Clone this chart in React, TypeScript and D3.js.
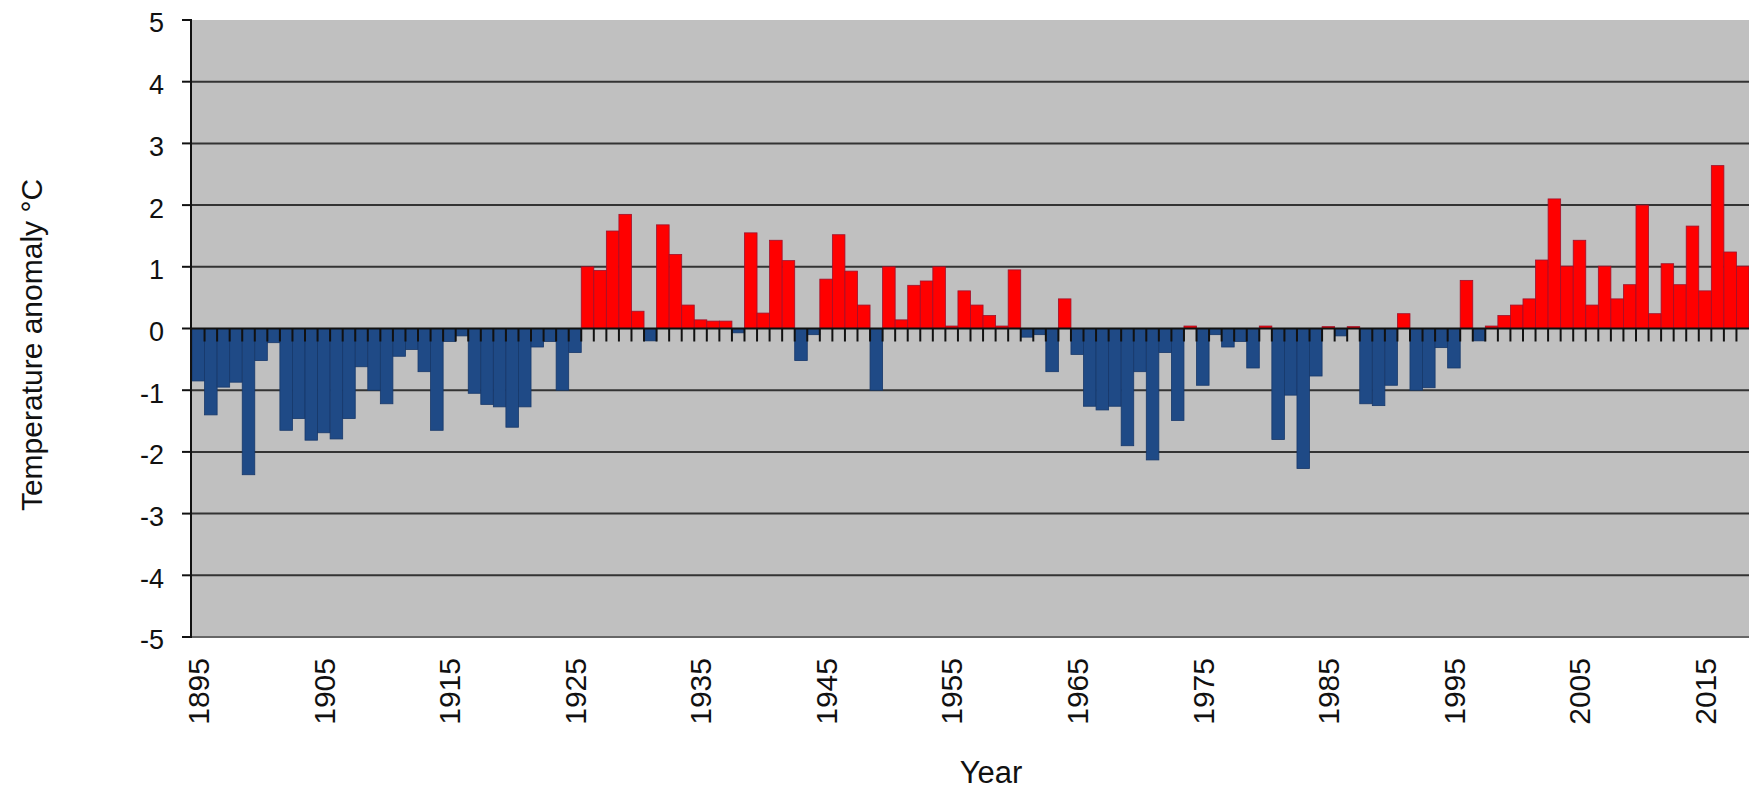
import React, { useEffect, useRef } from "react";
import * as d3 from "d3";

// yearly temperature anomaly (°C), 1895 - 2018
const firstYear = 1895;
const anomalies = [
  -0.85, -1.4, -0.95, -0.87, -2.37, -0.52, -0.23, -1.65, -1.46, -1.81,
  -1.69, -1.79, -1.46, -0.62, -1.0, -1.22, -0.45, -0.34, -0.7, -1.65,
  -0.21, -0.12, -1.05, -1.23, -1.27, -1.6, -1.27, -0.3, -0.21, -1.0,
  -0.39, 1.0, 0.94, 1.58, 1.85, 0.28, -0.2, 1.68, 1.2, 0.38,
  0.14, 0.12, 0.12, -0.07, 1.55, 0.25, 1.43, 1.1, -0.52, -0.1,
  0.8, 1.52, 0.93, 0.38, -1.0, 1.0, 0.14, 0.7, 0.77, 1.0,
  0.04, 0.61, 0.38, 0.21, 0.04, 0.95, -0.14, -0.1, -0.7, 0.48,
  -0.42, -1.26, -1.32, -1.26, -1.9, -0.7, -2.13, -0.39, -1.49, 0.04,
  -0.92, -0.1, -0.3, -0.21, -0.64, 0.04, -1.8, -1.08, -2.27, -0.77,
  0.03, -0.12, 0.03, -1.22, -1.25, -0.92, 0.24, -1.0, -0.96, -0.31,
  -0.64, 0.78, -0.2, 0.04, 0.21, 0.38, 0.48, 1.11, 2.1, 1.01,
  1.43, 0.38, 1.01, 0.48, 0.71, 2.0, 0.24, 1.05, 0.71, 1.66,
  0.61, 2.64, 1.24, 1.01,
];
const years = anomalies.map((_, i) => firstYear + i);
const yearLabels = [1895, 1905, 1915, 1925, 1935, 1945, 1955, 1965, 1975, 1985, 1995, 2005, 2015];
const yTicks = [-5, -4, -3, -2, -1, 0, 1, 2, 3, 4, 5];

const W = 1749;
const H = 789;
const FONT = "'Liberation Sans', Arial, sans-serif";

export default function App() {
  const ref = useRef<SVGSVGElement>(null);

  useEffect(() => {
    const svg = d3.select(ref.current);
    svg.selectAll("*").remove();

    const left = 192, right = 1749, top = 20, bottom = 637;

    const x = d3.scaleBand<number>().domain(years).range([left, right]).padding(0);
    const y = d3.scaleLinear().domain([-5, 5]).range([bottom, top]);

    // plot background
    svg.append("rect")
      .attr("x", left).attr("y", top)
      .attr("width", right - left).attr("height", bottom - top)
      .attr("fill", "#c0c0c0");

    // gridlines
    svg.append("g")
      .selectAll("line")
      .data(yTicks.filter((d) => d !== 5 && d !== 0))
      .join("line")
      .attr("x1", left).attr("x2", right)
      .attr("y1", (d) => y(d)).attr("y2", (d) => y(d))
      .attr("stroke", (d) => (d === -5 ? "#666" : "#333"))
      .attr("stroke-width", 2);

    // bars
    svg.append("g")
      .selectAll("rect")
      .data(anomalies)
      .join("rect")
      .attr("x", (d, i) => x(years[i])!)
      .attr("width", x.bandwidth())
      .attr("y", (d) => y(Math.max(0, d)))
      .attr("height", (d) => Math.abs(y(d) - y(0)))
      .attr("fill", (d) => (d >= 0 ? "#ff0000" : "#1f4a86"))
      .attr("stroke", (d) => (d >= 0 ? "#a0102a" : "#17386a"))
      .attr("stroke-width", 0.8);

    // zero line + ticks between categories
    svg.append("line")
      .attr("x1", left).attr("x2", right)
      .attr("y1", y(0)).attr("y2", y(0))
      .attr("stroke", "#111").attr("stroke-width", 2);

    svg.append("g")
      .selectAll("line")
      .data(years.slice(1))
      .join("line")
      .attr("x1", (d) => x(d)!).attr("x2", (d) => x(d)!)
      .attr("y1", y(0)).attr("y2", y(0) + 13)
      .attr("stroke", "#111").attr("stroke-width", 2);

    // y axis
    svg.append("line")
      .attr("x1", left - 1).attr("x2", left - 1)
      .attr("y1", top).attr("y2", bottom)
      .attr("stroke", "#111").attr("stroke-width", 2);

    const yAxis = svg.append("g");
    yAxis.selectAll("line")
      .data(yTicks)
      .join("line")
      .attr("x1", left - 10).attr("x2", left)
      .attr("y1", (d) => y(d)).attr("y2", (d) => y(d))
      .attr("stroke", "#111").attr("stroke-width", 2);
    yAxis.selectAll("text")
      .data(yTicks)
      .join("text")
      .attr("x", left - 28)
      .attr("y", (d) => y(d) + 3)
      .attr("dy", "0.35em")
      .attr("text-anchor", "end")
      .style("font-family", FONT)
      .style("font-size", "27px")
      .attr("fill", "#111")
      .text((d) => d);

    // x labels
    svg.append("g")
      .selectAll("text")
      .data(yearLabels)
      .join("text")
      .attr("transform", (d) => `translate(${x(d)! + x.bandwidth() / 2}, ${bottom + 21}) rotate(-90)`)
      .attr("dy", "0.36em")
      .attr("text-anchor", "end")
      .style("font-family", FONT)
      .style("font-size", "30px")
      .attr("fill", "#111")
      .text((d) => d);

    // axis titles
    svg.append("text")
      .attr("x", 991).attr("y", 783)
      .attr("text-anchor", "middle")
      .style("font-family", FONT)
      .style("font-size", "31px")
      .attr("fill", "#111")
      .text("Year");

    svg.append("text")
      .attr("transform", "translate(42, 345) rotate(-90)")
      .attr("text-anchor", "middle")
      .style("font-family", FONT)
      .style("font-size", "30px")
      .attr("fill", "#111")
      .text("Temperature anomaly °C");
  }, []);

  return (
    <svg
      ref={ref}
      width={W}
      height={H}
      style={{ position: "absolute", left: 0, top: 0, background: "#fff" }}
    />
  );
}
